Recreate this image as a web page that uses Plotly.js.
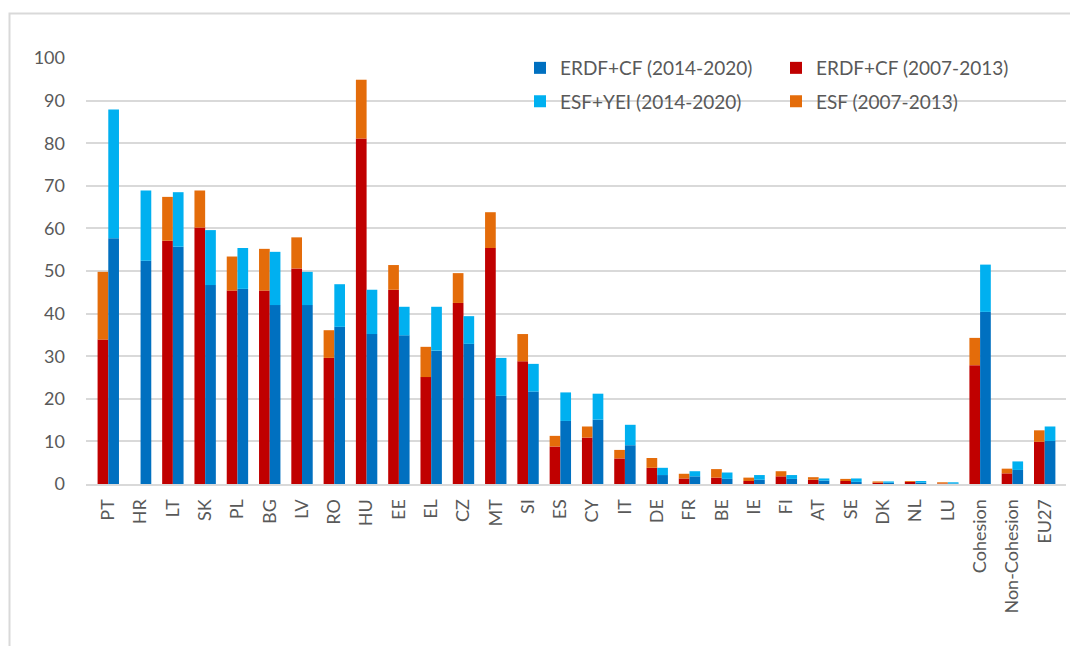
<!DOCTYPE html>
<html>
<head>
<meta charset="utf-8">
<script src="https://cdn.plot.ly/plotly-3.0.1.min.js"></script>
<style>
  html, body { margin: 0; padding: 0; background: #ffffff; overflow: hidden; }
  #chart { width: 1070px; height: 646px; }
</style>
</head>
<body>
<div id="chart"></div>
<script>
// Categories (x-axis tick labels)
const categories = ["PT","HR","LT","SK","PL","BG","LV","RO","HU","EE","EL","CZ","MT","SI","ES","CY","IT","DE","FR","BE","IE","FI","AT","SE","DK","NL","LU","Cohesion","Non-Cohesion","EU27"];

// 2007-2013 period: ERDF+CF and ESF (stacked on top)
const erdfCf0713 = [33.9,null,57.1,60.2,45.4,45.4,50.6,29.6,81.1,45.6,25.1,42.5,55.4,28.8,8.8,10.9,6.0,3.8,1.3,1.5,0.7,1.8,1.0,0.7,0.3,0.5,0.1,27.9,2.5,9.9];
const esf0713     = [15.9,null,10.3,8.7,8.0,9.8,7.3,6.5,13.8,5.8,7.1,7.0,8.4,6.4,2.5,2.6,2.0,2.3,1.1,2.0,0.8,1.2,0.6,0.5,0.3,0.2,0.3,6.4,1.1,2.7];

// 2014-2020 period: ERDF+CF and ESF+YEI (stacked on top)
const erdfCf1420 = [57.7,52.4,55.7,46.7,45.8,42.0,42.0,36.9,35.2,34.9,31.3,32.9,20.7,21.7,14.8,15.1,9.1,2.1,1.8,1.2,1.0,1.2,0.8,0.5,0.3,0.3,0.1,40.4,3.3,10.1];
const esfYei1420 = [30.2,16.5,12.8,12.9,9.6,12.5,7.8,10.0,10.4,6.7,10.3,6.5,8.9,6.5,6.7,6.1,4.8,1.7,1.2,1.5,1.1,0.9,0.5,0.8,0.3,0.4,0.3,11.1,2.0,3.4];

const yTickValues = [0,10,20,30,40,50,60,70,80,90,100];

const textColor = "#595959";
const gridColor = "#D9D9D9";
const fontFamily = "Lato, 'Open Sans', sans-serif";

const traces = [
  {
    type: "bar", name: "ERDF+CF (2007-2013)", x: categories, y: erdfCf0713,
    offsetgroup: "p0713", marker: {color: "#C00000"},
    legend: "legend", legendrank: 2, hoverinfo: "skip"
  },
  {
    type: "bar", name: "ESF (2007-2013)", x: categories, y: esf0713, base: erdfCf0713,
    offsetgroup: "p0713", marker: {color: "#E46C0A"},
    legend: "legend2", legendrank: 2, hoverinfo: "skip"
  },
  {
    type: "bar", name: "ERDF+CF (2014-2020)", x: categories, y: erdfCf1420,
    offsetgroup: "p1420", marker: {color: "#0070C0"},
    legend: "legend", legendrank: 1, hoverinfo: "skip"
  },
  {
    type: "bar", name: "ESF+YEI (2014-2020)", x: categories, y: esfYei1420, base: erdfCf1420,
    offsetgroup: "p1420", marker: {color: "#00B0F0"},
    legend: "legend2", legendrank: 1, hoverinfo: "skip"
  }
];

const L = 86, R = 4, T = 58, B = 162;
const plotW = 1070 - L - R, plotH = 646 - T - B;
function px2x(p) { return (p - L) / plotW; }
function py2y(p) { return (646 - B - p) / plotH; }

const legendCommon = {
  orientation: "h",
  entrywidth: 211,
  entrywidthmode: "pixels",
  bgcolor: "rgba(0,0,0,0)",
  borderwidth: 0,
  font: {family: fontFamily, size: 19, color: textColor},
  xanchor: "left",
  yanchor: "middle",
  traceorder: "normal",
  itemclick: false,
  itemdoubleclick: false
};

const layout = {
  width: 1070,
  height: 646,
  margin: {l: L, r: R, t: T, b: B, pad: 0, autoexpand: false},
  paper_bgcolor: "#ffffff",
  plot_bgcolor: "#ffffff",
  barmode: "group",
  bargap: 0.337,
  bargroupgap: 0,
  font: {family: fontFamily, size: 18, color: textColor},
  showlegend: true,
  legend: Object.assign({}, legendCommon, {x: px2x(520), y: py2y(68)}),
  legend2: Object.assign({}, legendCommon, {x: px2x(520), y: py2y(101.5)}),
  xaxis: {
    type: "category",
    range: [-0.69, 29.66],
    tickangle: -90,
    showgrid: false,
    showline: true,
    linecolor: gridColor,
    linewidth: 2,
    ticks: "",
    ticklabelstandoff: 6,
    tickfont: {family: fontFamily, size: 18, color: textColor},
    fixedrange: true
  },
  yaxis: {
    range: [0, 100],
    tickvals: yTickValues,
    ticktext: yTickValues.map(String),
    showgrid: true,
    gridcolor: gridColor,
    gridwidth: 2,
    zeroline: false,
    showline: false,
    ticks: "",
    ticklabelstandoff: 20,
    tickfont: {family: fontFamily, size: 18, color: textColor},
    fixedrange: true
  },
  shapes: [
    {
      type: "rect", xref: "paper", yref: "paper", layer: "below",
      x0: px2x(9.5), x1: px2x(1090), y0: py2y(670), y1: py2y(13.5),
      line: {color: gridColor, width: 2}, fillcolor: "rgba(0,0,0,0)"
    }
  ]
};

Plotly.newPlot("chart", traces, layout, {displayModeBar: false, staticPlot: true});
</script>
</body>
</html>
